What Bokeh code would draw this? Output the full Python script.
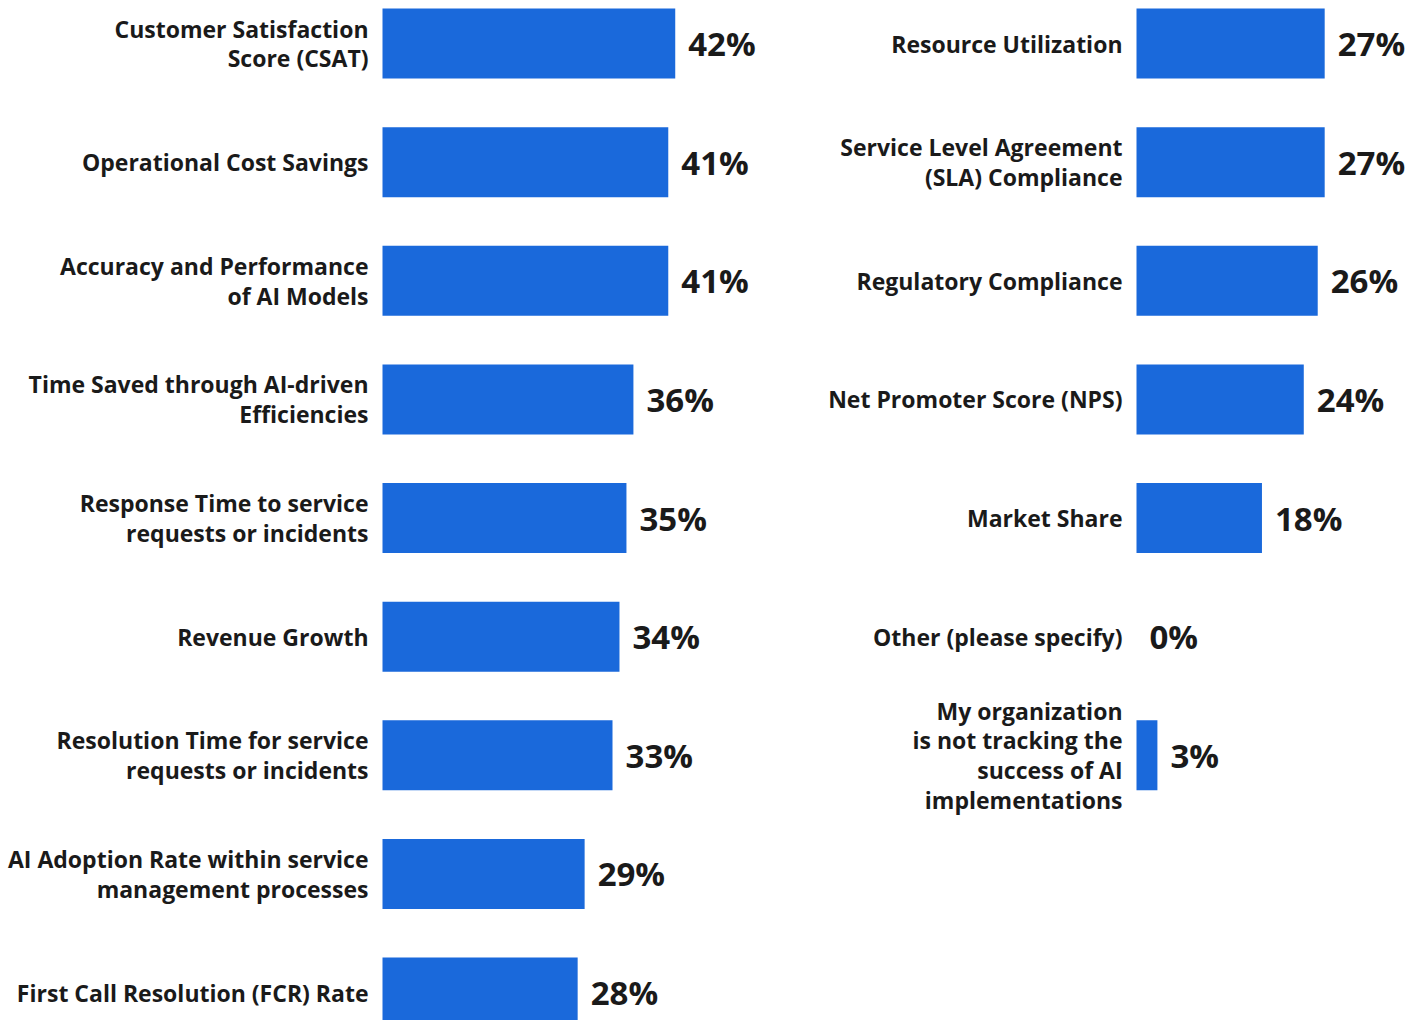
from bokeh.plotting import figure
from bokeh.layouts import row
from bokeh.models import ColumnDataSource, Range1d
from bokeh.core.properties import value
from bokeh.embed import file_html
from bokeh.resources import INLINE

left_labels = [
    "Customer Satisfaction\nScore (CSAT)",
    "Operational Cost Savings",
    "Accuracy and Performance\nof AI Models",
    "Time Saved through AI-driven\nEfficiencies",
    "Response Time to service\nrequests or incidents",
    "Revenue Growth",
    "Resolution Time for service\nrequests or incidents",
    "AI Adoption Rate within service\nmanagement processes",
    "First Call Resolution (FCR) Rate",
]
left_values = [42, 41, 41, 36, 35, 34, 33, 29, 28]

right_labels = [
    "Resource Utilization",
    "Service Level Agreement\n(SLA) Compliance",
    "Regulatory Compliance",
    "Net Promoter Score (NPS)",
    "Market Share",
    "Other (please specify)",
    "My organization\nis not tracking the\nsuccess of AI\nimplementations",
]
right_values = [27, 27, 26, 24, 18, 0, 3]

BAR = "#1a69db"
TXT = "#1a1a1a"
FONT = "Open Sans"
H = 1020
PX_PER_PCT = 6.97
ROW_PX = 118.625
TOP_PX = 43


def panel(labels, values, width, bar_start_px):
    n_idx = list(range(len(labels)))
    src = ColumnDataSource(dict(
        y=n_idx, v=values, lab=labels,
        vt=[f"{v}%" for v in values],
    ))
    x0 = -bar_start_px / PX_PER_PCT
    x1 = x0 + width / PX_PER_PCT
    y_top = -TOP_PX / ROW_PX
    y_bot = y_top + H / ROW_PX
    p = figure(width=width, height=H, output_backend="svg",
               toolbar_location=None,
               x_range=Range1d(x0, x1), y_range=Range1d(y_bot, y_top),
               min_border=0, outline_line_color=None)
    p.axis.visible = False
    p.grid.visible = False
    p.hbar(y="y", left=0, right="v", height=70 / ROW_PX, source=src,
           fill_color=BAR, line_color=None)
    p.text(x=0, y="y", text="lab", source=src, x_offset=-14,
           text_align="right", text_baseline="middle",
           text_font=value(FONT), text_font_style="bold",
           text_font_size="23px", text_color=TXT, text_line_height=0.93)
    p.text(x="v", y="y", text="vt", source=src, x_offset=13,
           text_align="left", text_baseline="middle",
           text_font=value(FONT), text_font_style="bold",
           text_font_size="33px", text_color=TXT)
    return p


pl = panel(left_labels, left_values, 780, 382)
pr = panel(right_labels, right_values, 630, 356)
layout = row(pl, pr, spacing=0)

open("out.html", "w").write(file_html(layout, INLINE))
